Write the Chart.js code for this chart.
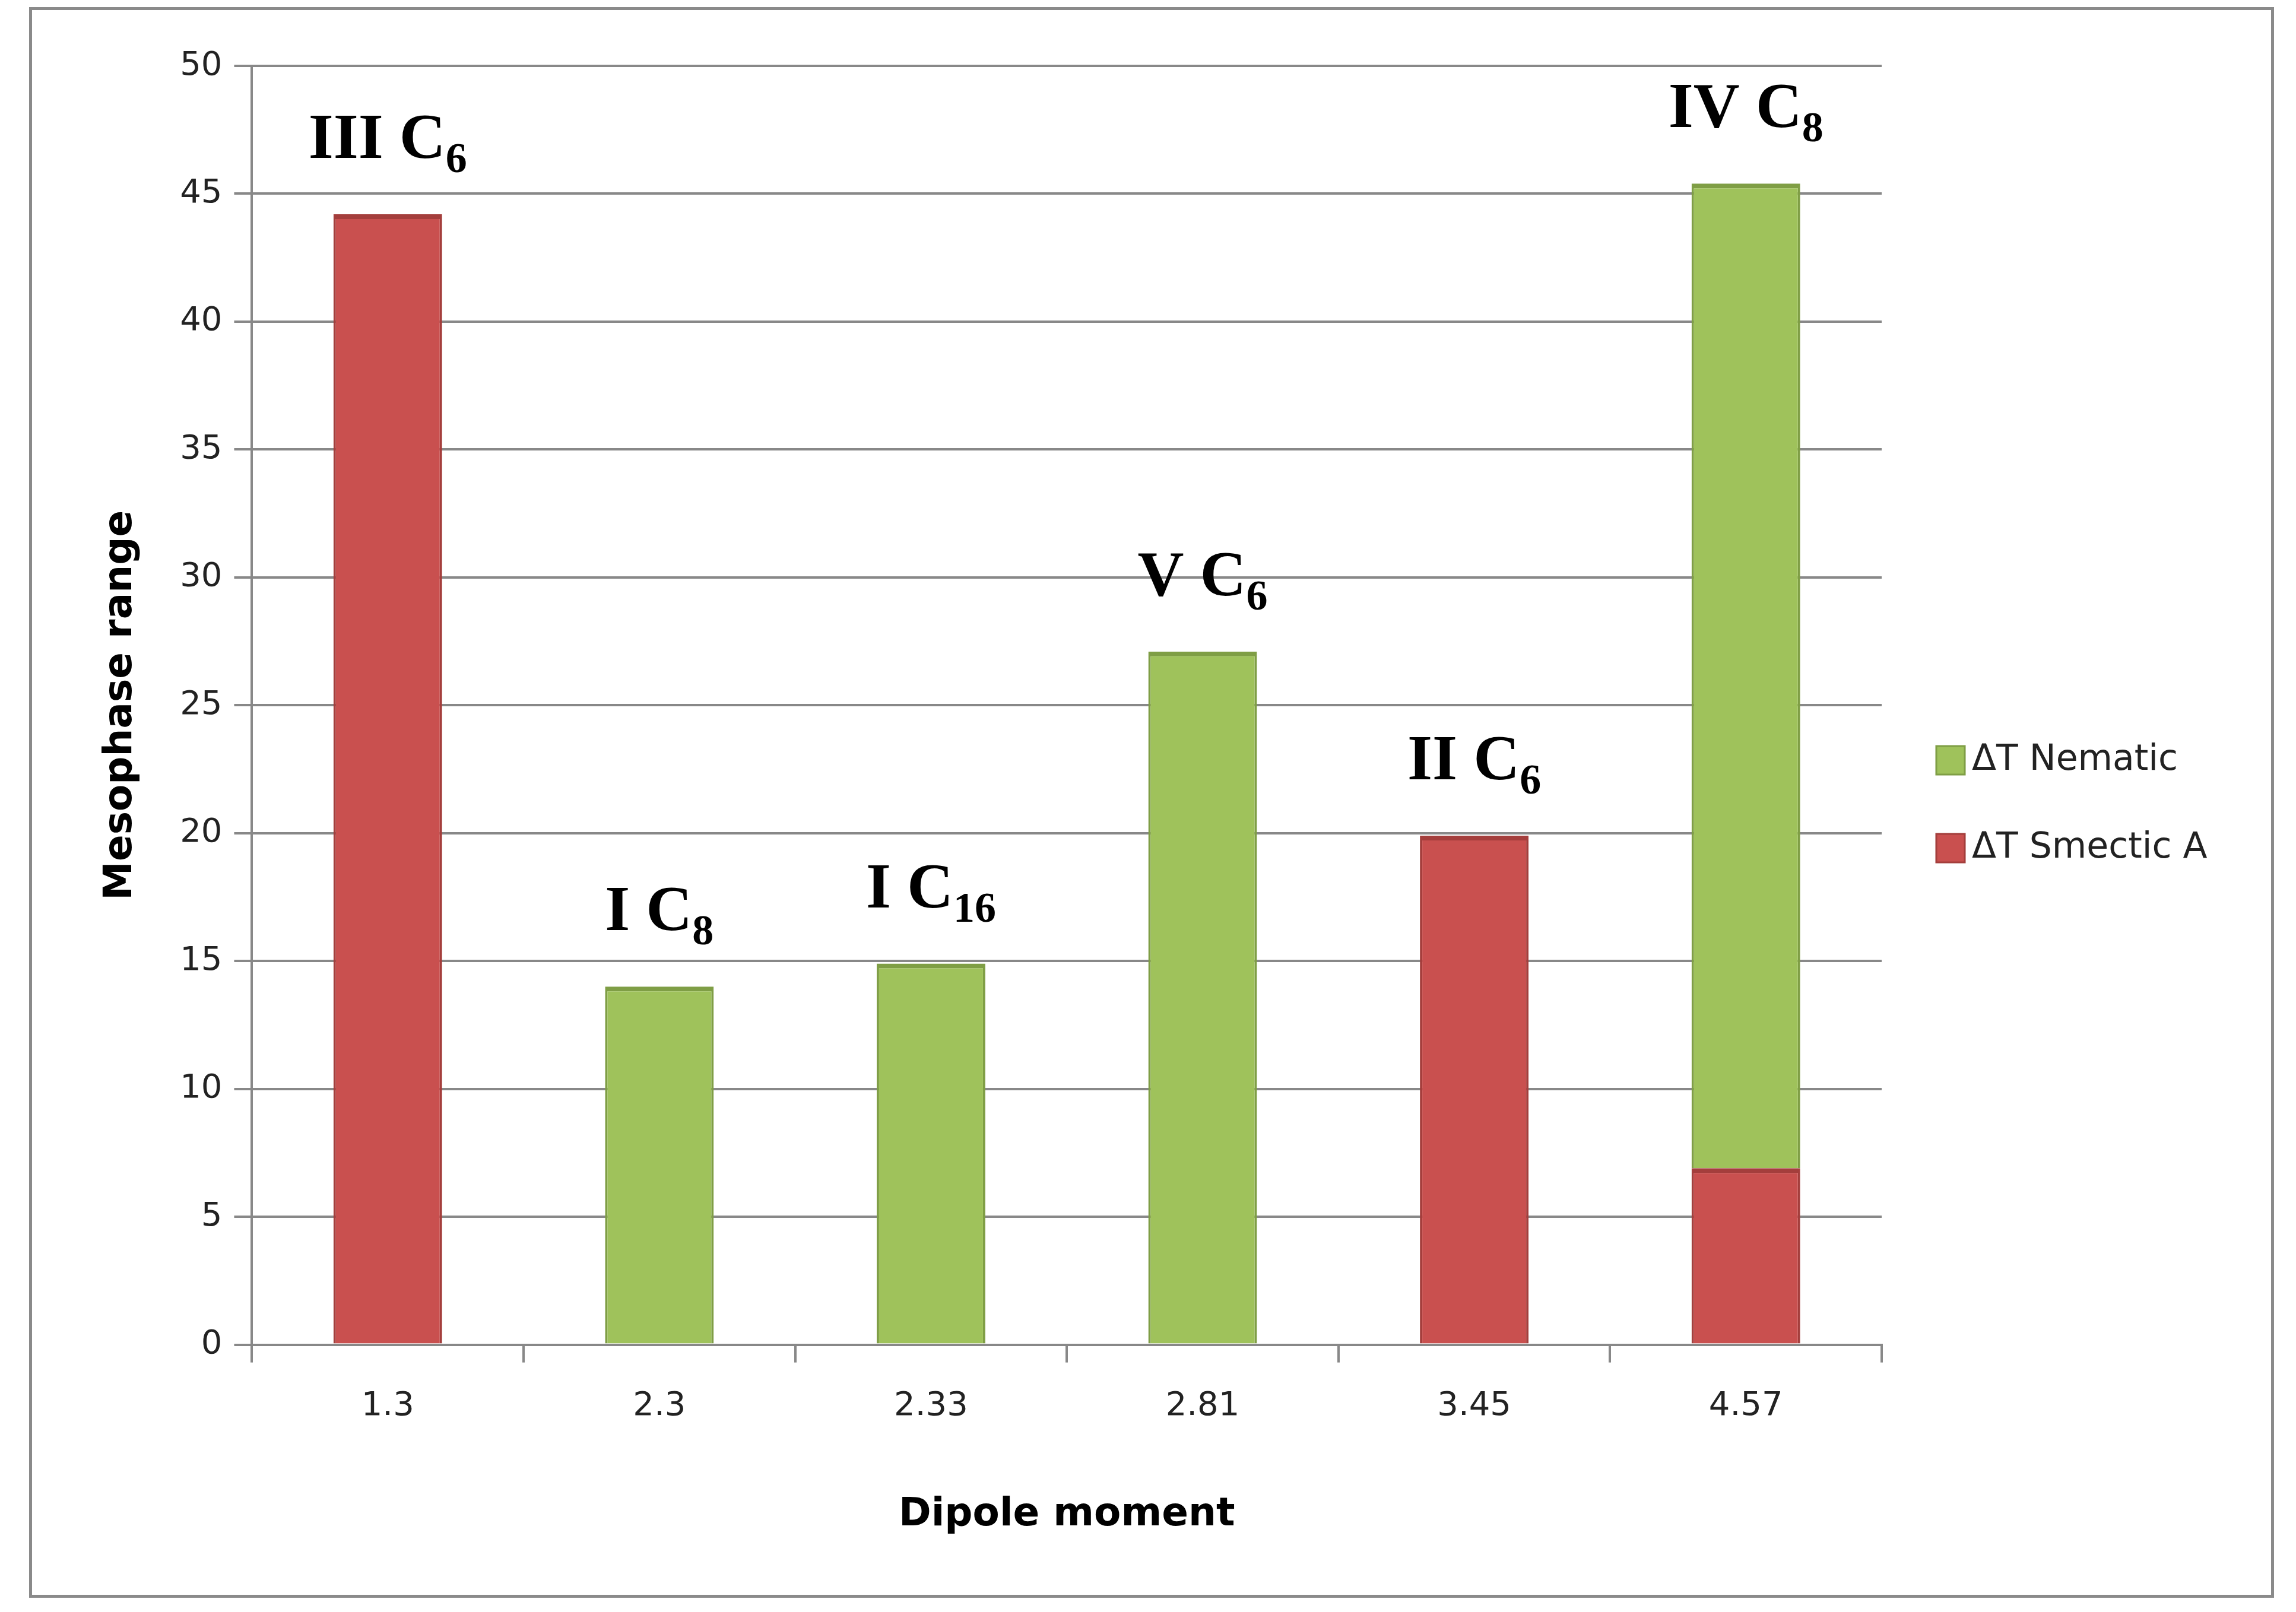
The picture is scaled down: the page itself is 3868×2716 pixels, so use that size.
<!DOCTYPE html>
<html>
<head>
<meta charset="utf-8">
<script src="https://cdn.jsdelivr.net/npm/chart.js@4.4.1/dist/chart.umd.min.js"></script>
<style>
  html, body { margin: 0; padding: 0; background: #fff; }
  #wrap { position: relative; width: 3868px; height: 2716px; }
  #frame { position: absolute; left: 49px; top: 12px; width: 3782px; height: 2680px; border: 5px solid #8a8a8a; box-sizing: border-box; }
</style>
</head>
<body>
<div id="wrap">
  <div id="frame"></div>
  <canvas id="chart" width="3868" height="2716"></canvas>
</div>
<script>
// --- data ---
const dipoleMoments = ['1.3', '2.3', '2.33', '2.81', '3.45', '4.57'];
const nematicRange = [0, 14, 14.9, 27.1, 0, 38.5];
const smecticRange = [44.2, 0, 0, 0, 19.9, 6.9];
const compoundNames = ['III C', 'I C', 'I C', 'V C', 'II C', 'IV C'];
const chainSubscripts = ['6', '8', '16', '6', '6', '8'];
const yTicks = [0, 5, 10, 15, 20, 25, 30, 35, 40, 45, 50];

const GREEN = '#9fc25b';
const RED = '#c9504f';

// Labels above each stacked bar, e.g. "III C" with subscript "6"
const compoundLabels = {
    id: 'compoundLabels',
    afterDatasetsDraw(chart) {
        const { ctx } = chart;
        const yScale = chart.scales.y;
        const xScale = chart.scales.x;
        ctx.save();
        ctx.fillStyle = '#000';
        ctx.textBaseline = 'alphabetic';
        compoundNames.forEach((name, i) => {
            const total = nematicRange[i] + smecticRange[i];
            const x = xScale.getPixelForValue(i);
            const y = yScale.getPixelForValue(total) - 95;
            ctx.font = 'bold 108px "Liberation Serif", serif';
            const wMain = ctx.measureText(name).width;
            ctx.font = 'bold 72px "Liberation Serif", serif';
            const wSub = ctx.measureText(chainSubscripts[i]).width;
            const start = x - (wMain + wSub) / 2;
            ctx.font = 'bold 108px "Liberation Serif", serif';
            ctx.textAlign = 'left';
            ctx.fillText(name, start, y);
            ctx.font = 'bold 72px "Liberation Serif", serif';
            ctx.fillText(chainSubscripts[i], start + wMain, y + 24);
        });
        ctx.restore();
    }
};

// Legend on the right, nematic first as in the original
const sideLegend = {
    id: 'sideLegend',
    afterDraw(chart) {
        const { ctx } = chart;
        ctx.save();
        ctx.font = '60px "DejaVu Sans", sans-serif';
        ctx.textBaseline = 'middle';
        ctx.textAlign = 'left';
        chart.data.datasets.slice().reverse().forEach((ds, i) => {
            const y = 1281 + i * 148;
            ctx.fillStyle = ds.backgroundColor;
            ctx.fillRect(3262, y - 24, 48, 48);
            ctx.strokeStyle = ds.borderColor;
            ctx.lineWidth = 3;
            ctx.strokeRect(3262, y - 24, 48, 48);
            ctx.fillStyle = '#222';
            ctx.fillText(ds.label, 3322, y);
        });
        ctx.restore();
    }
};

new Chart(document.getElementById('chart'), {
    type: 'bar',
    data: {
        labels: dipoleMoments,
        datasets: [
            {
                label: '\u0394T Smectic A',
                data: smecticRange,
                backgroundColor: RED,
                borderColor: '#a43e3c',
                borderWidth: { left: 4, right: 4, top: 8, bottom: 0 }
            },
            {
                label: '\u0394T Nematic',
                data: nematicRange,
                backgroundColor: GREEN,
                borderColor: '#7f9e45',
                borderWidth: { left: 4, right: 4, top: 8, bottom: 0 }
            }
        ]
    },
    options: {
        responsive: false,
        animation: false,
        barPercentage: 0.4,
        categoryPercentage: 1,
        layout: { padding: { left: 160, right: 698, top: 111, bottom: 120 } },
        plugins: {
            legend: { display: false },
            tooltip: { enabled: false }
        },
        scales: {
            x: {
                stacked: true,
                grid: {
                    offset: true,
                    drawOnChartArea: false,
                    color: '#888',
                    lineWidth: 4,
                    tickLength: 30
                },
                border: { color: '#888', width: 4 },
                ticks: {
                    color: '#222',
                    padding: 40,
                    font: { family: 'DejaVu Sans', size: 56 }
                },
                title: {
                    display: true,
                    text: 'Dipole moment',
                    color: '#000',
                    padding: { top: 70 },
                    font: { family: 'DejaVu Sans', size: 66, weight: 'bold' }
                }
            },
            y: {
                stacked: true,
                min: 0,
                max: 50,
                afterBuildTicks(axis) { axis.ticks = yTicks.map(v => ({ value: v })); },
                grid: { color: '#888', lineWidth: 4, tickLength: 30 },
                border: { color: '#888', width: 4 },
                ticks: {
                    color: '#222',
                    padding: 20,
                    font: { family: 'DejaVu Sans', size: 56 }
                },
                title: {
                    display: true,
                    text: 'Mesophase range',
                    color: '#000',
                    padding: { bottom: 40 },
                    font: { family: 'DejaVu Sans', size: 66, weight: 'bold' }
                }
            }
        }
    },
    plugins: [compoundLabels, sideLegend]
});
</script>
</body>
</html>
